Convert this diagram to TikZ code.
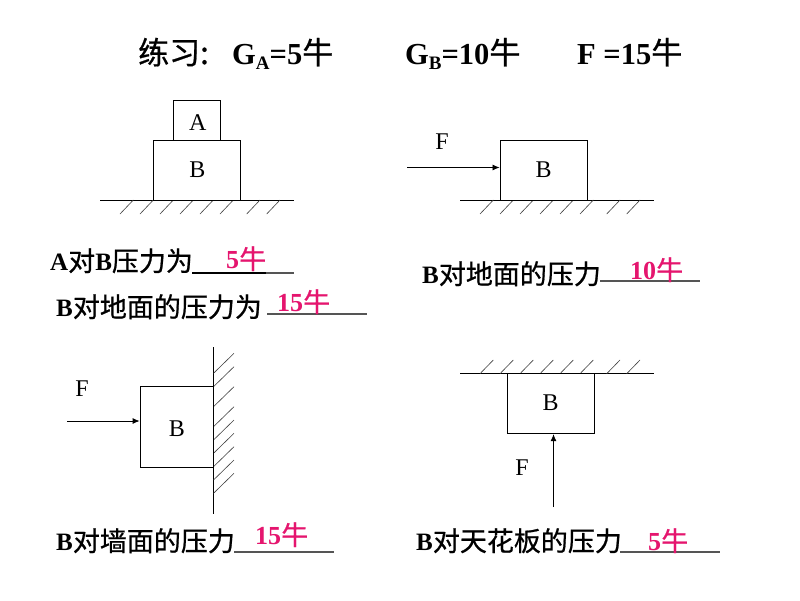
\documentclass[tikz,border=0pt]{standalone}
\usepackage{fontspec}
\setmainfont{Liberation Serif}
\newfontfamily\cjk[FakeBold=0.7]{Noto Sans CJK SC}
\definecolor{pinkred}{HTML}{E5156E}
\definecolor{ulgrey}{HTML}{555555}
\usetikzlibrary{arrows.meta}
\tikzset{
  x=1pt,y=-1pt,
  line/.style={draw=black,line width=0.9pt},
  hatch/.style={draw=black!75,line width=0.6pt},
  blockbox/.style={draw=black,line width=0.9pt,fill=white,inner sep=0pt,font=\fontsize{24}{28}\selectfont},
  letter/.style={inner sep=0pt,font=\fontsize{24}{28}\selectfont},
  caption/.style={inner sep=0pt,anchor=base west,font=\fontsize{25}{28}\selectfont\bfseries},
  titletext/.style={inner sep=0pt,anchor=base west,font=\fontsize{30.5}{32}\selectfont\bfseries},
  answer/.style={inner sep=0pt,anchor=base west,text=pinkred,font=\fontsize{26}{28}\selectfont\bfseries},
  blank/.style={draw=ulgrey,line width=1.2pt},
  force/.style={draw=black,line width=0.8pt,-{Latex[length=7pt,width=6pt]}}
}
\newcommand{\zh}[1]{\raisebox{-1pt}{\cjk\fontseries{m}\selectfont\fontsize{27}{28}\selectfont #1}}
\newcommand{\zhT}[1]{{\cjk\fontseries{m}\selectfont\fontsize{31}{32}\selectfont #1}}
\newcommand{\blk}[2]{\raisebox{#1}[0pt][0pt]{#2}}
\begin{document}
\begin{tikzpicture}
\useasboundingbox (0,0) rectangle (800,600);
\fill[white] (0,0) rectangle (800,600);
% title
\node[titletext] (t1) at (138,64) {\zhT{练习:}};
\node[titletext] (t2) at (232,64) {G\raisebox{-5pt}{\fontsize{19}{20}\selectfont A}=5\zhT{牛}};
\node[titletext] (t3) at (405,64) {G\raisebox{-5pt}{\fontsize{19}{20}\selectfont B}=10\zhT{牛}};
\node[titletext] (t4) at (577,64) {F =15\zhT{牛}};
% diagram 1
\draw[line] (100,200) -- (294,200);
\foreach \x in {133.3,153.3,173.3,193.3,213.3,233.3,260,280} \draw[hatch] (\x,200) -- (\x-13.3,214);
\node[blockbox,minimum width=46.5pt,minimum height=40pt] (a1) at (196.8,120) {\hspace{2pt}\blk{-10pt}{A}};
\node[blockbox,minimum width=86.5pt,minimum height=60pt] (b1) at (197,170) {\hspace{1pt}\blk{-7pt}{B}};
% diagram 2
\draw[line] (460,200) -- (654,200);
\foreach \x in {493.3,513.3,533.3,553.3,573.3,593.3,620,640} \draw[hatch] (\x,200) -- (\x-13.3,214);
\node[blockbox,minimum width=87pt,minimum height=60pt] (b2) at (543.5,170) {\blk{-7pt}{B}};
\node[letter] (f2) at (442,142) {F};
\coordinate (s2) at (407,167.5);
\draw[force] (s2) -- (s2-|b2.west);
% diagram 3
\draw[line] (213.5,347) -- (213.5,514);
\foreach \y in {373.3,386.7,406.7,426.7,440,453.3,466.7,480,493.3} \draw[hatch] (213.5,\y) -- (234,\y-20);
\node[blockbox,minimum width=73.5pt,minimum height=80.5pt] (b3) at (176.8,426.8) {\blk{-9.2pt}{B}};
\node[letter] (f3) at (82,389) {F};
\coordinate (s3) at (67,421);
\draw[force] (s3) -- (s3-|b3.west);
% diagram 4
\draw[line] (460,373.7) -- (654,373.7);
\foreach \x in {480,500,520,540,560,580,606.7,626.7} \draw[hatch] (\x,373.7) -- (\x+13.3,360);
\node[blockbox,minimum width=87pt,minimum height=60pt] (b4) at (550.5,403.7) {\blk{-6.3pt}{B}};
\node[letter] (f4) at (522,468) {F};
\coordinate (s4) at (553.5,507);
\draw[force] (s4) -- (s4|-b4.south);
% captions
\node[caption] (c1) at (50,270) {A\zh{对}B\zh{压力为}};
\coordinate (u1a) at (192,273); \coordinate (u1b) at (294,273); \coordinate (u1c) at (266,273);
\draw[blank] (u1a) -- (u1b);
\draw[draw=black,line width=1.6pt] (u1a) -- (u1c);
\node[answer] (r1) at (226,268) {5\zh{牛}};
\node[caption] (c2) at (56,316) {B\zh{对地面的压力为}};
\coordinate (u2a) at (267,314); \coordinate (u2b) at (367,314);
\draw[blank] (u2a) -- (u2b);
\node[answer] (r2) at (277,311) {15\zh{牛}};
\node[caption] (c3) at (422,283) {B\zh{对地面的压力}};
\coordinate (u3a) at (600,281); \coordinate (u3b) at (700,281);
\draw[blank] (u3a) -- (u3b);
\node[answer] (r3) at (630,279) {10\zh{牛}};
\node[caption] (c4) at (56,550) {B\zh{对墙面的压力}};
\coordinate (u4a) at (234,552); \coordinate (u4b) at (334,552);
\draw[blank] (u4a) -- (u4b);
\node[answer] (r4) at (255,544) {15\zh{牛}};
\node[caption] (c5) at (416,550) {B\zh{对天花板的压力}};
\coordinate (u5a) at (620,552); \coordinate (u5b) at (720,552);
\draw[blank] (u5a) -- (u5b);
\node[answer] (r5) at (648,550) {5\zh{牛}};
\end{tikzpicture}
\end{document}
